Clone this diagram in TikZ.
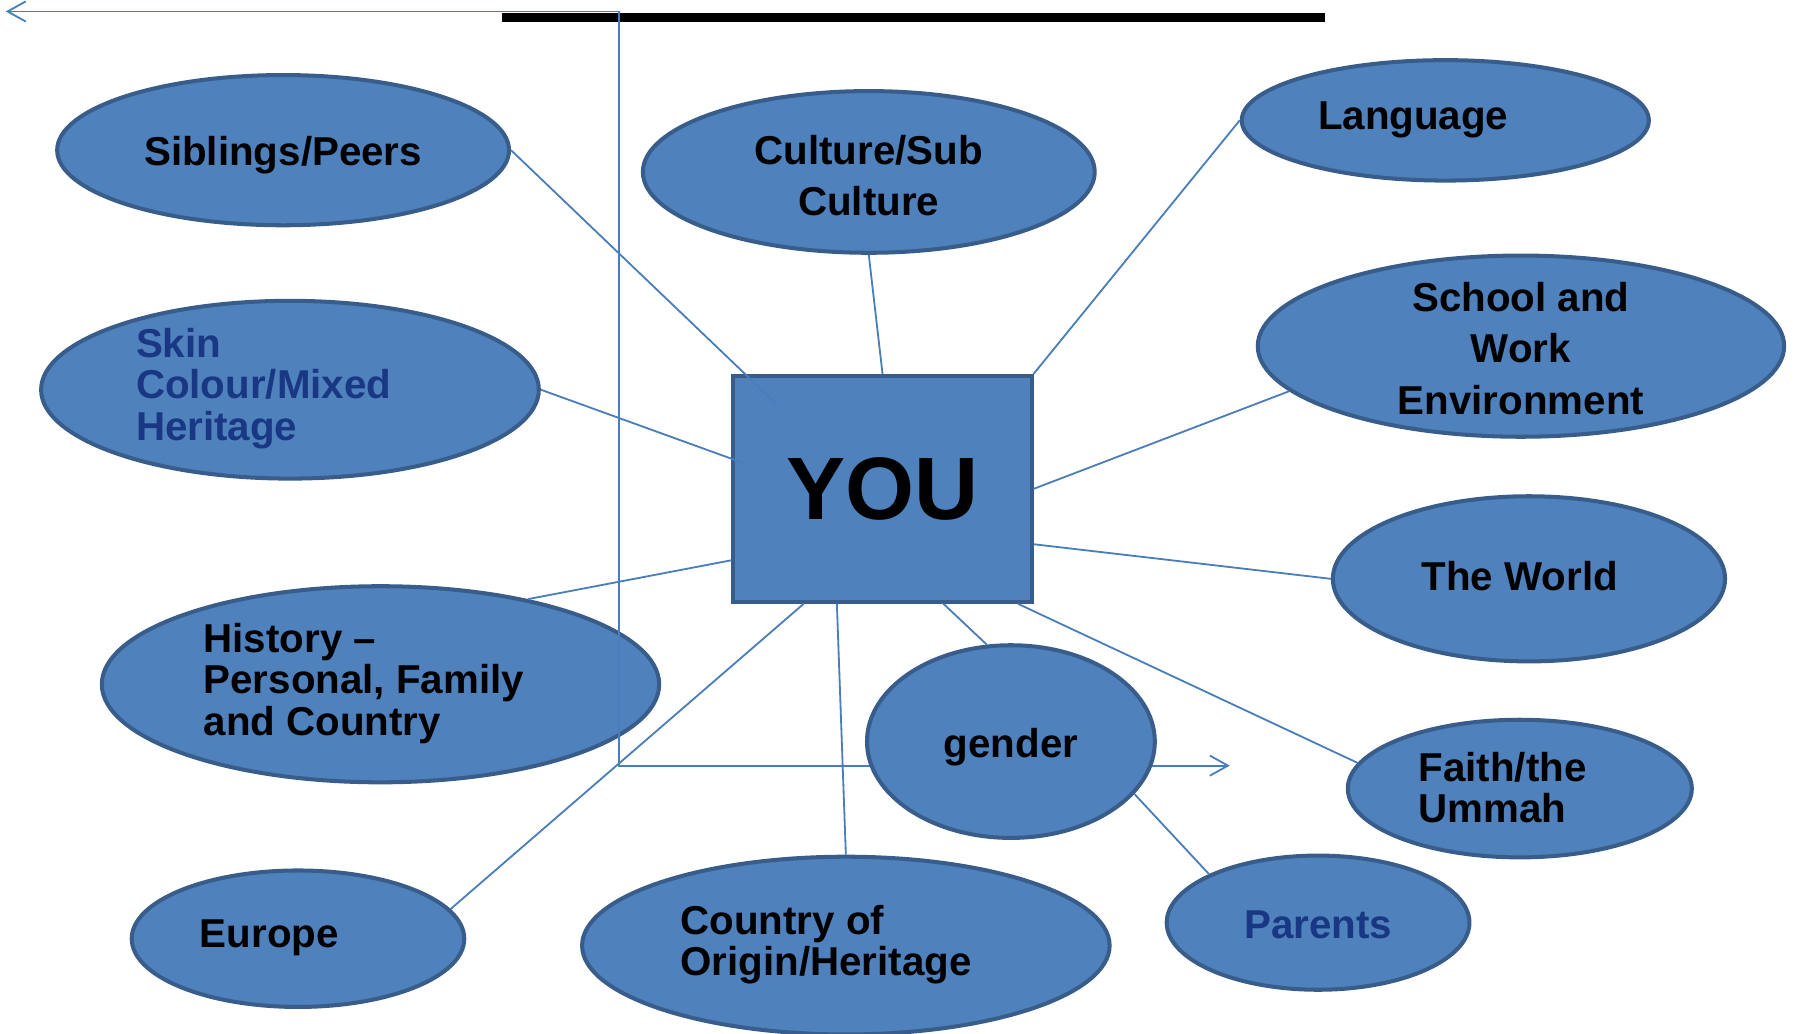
\documentclass[tikz,border=0pt]{standalone}
\usepackage{fontspec}
\setmainfont{Liberation Sans}
\usepackage{tikz}
\usetikzlibrary{arrows.meta,shapes.geometric,calc}
\usepackage{xcolor}

\definecolor{bluefill}{RGB}{79,129,189}
\definecolor{rim}{RGB}{56,93,138}
\definecolor{wirecol}{RGB}{74,126,187}
\definecolor{inkblue}{RGB}{25,55,130}

\begin{document}
\begin{tikzpicture}[x=0.01cm, y=-0.01cm,
	bubble/.style 2 args={ellipse, draw=rim, fill=bluefill, line width=1pt, inner sep=0pt, minimum width=#1, minimum height=#2},
	word/.style={font=\bfseries\fontsize{10}{12.7}\selectfont, align=center, inner sep=0pt},
	wordl/.style={font=\bfseries\fontsize{10}{10.3}\selectfont, align=left, anchor=west, inner sep=0pt},
	wire/.style={draw=wirecol, line width=0.45pt},
	barb/.tip={Straight Barb[length=4.5pt, width=5pt]}]
				\useasboundingbox (0,0) rectangle (1567,902);
				\fill (438,11) rectangle (1156,19);
				% the bubbles
				\node[bubble={3.94cm}{1.31cm}] (sib) at (247,131) {};
				\node[bubble={3.94cm}{1.41cm}] (cul) at (758,150) {};
				\node[bubble={3.55cm}{1.05cm}] (lang) at (1261,105) {};
				\node[bubble={4.34cm}{1.55cm}] (skin) at (253,340) {};
				\node[bubble={4.59cm}{1.58cm}] (school) at (1327,302) {};
				\node[bubble={3.42cm}{1.44cm}] (world) at (1334,505) {};
				\node[bubble={4.86cm}{1.71cm}] (hist) at (332,597) {};
				\node[bubble={3.00cm}{1.20cm}] (faith) at (1326,688) {};
				\node[bubble={2.90cm}{1.19cm}] (eur) at (260,819) {};
				\node[bubble={4.60cm}{1.55cm}] (coo) at (738,825) {};
				\node[bubble={2.64cm}{1.17cm}] (par) at (1150,805) {};
				% elbow arrow
				\coordinate (tipl) at (5,10);
				\coordinate (bend) at (540,668);
				\coordinate (tipr) at (1073,668);
				\draw[wire, barb-barb] (tipl) -| (bend) -- (tipr);
				\node[bubble={2.51cm}{1.68cm}] (gen) at (882,647) {};
				\node[draw=rim, fill=bluefill, line width=1pt, minimum width=2.6cm, minimum height=1.97cm, font=\bfseries\fontsize{22}{22}\selectfont] (you) at (770,426.5) {YOU};
				% texts
				\node[word] (sibt) at (247,135) {Siblings/Peers};
				\node[word] (cult) at (758,153) {Culture/Sub\\Culture};
				\node[word] (langt) at (1233,105) {Language};
				\node[wordl, text=inkblue] (skint) at (118,339) {Skin\\Colour/Mixed\\Heritage};
				\node[word] (schoolt) at (1327,304) {School and\\Work\\Environment};
				\node[word] (worldt) at (1326,503) {The World};
				\node[wordl] (histt) at (177,596) {History –\\Personal, Family\\and Country};
				\node[word] (gent) at (882,652) {gender};
				\node[wordl] (faitht) at (1237,687) {Faith/the\\Ummah};
				\node[word] (eurt) at (235,818) {Europe};
				\node[wordl] (coot) at (593,824) {Country of\\Origin/Heritage};
				\node[word, text=inkblue] (part) at (1150,807) {Parents};
				% spokes
				\draw[wire] (sib.east) -- ($(you.north west)+(40,27)$);
				\draw[wire] (cul.south) -- (you.north);
				\draw[wire] (lang.west) -- (you.north east);
				\draw[wire] (skin.east) -- ($(you.north west)+(11,78)$);
				\draw[wire] (school.191) -- (you.east);
				\draw[wire] (world.west) -- ($(you.south east)+(0,-52)$);
				\draw[wire] (hist.30) -- ($(you.south west)+(0,-38)$);
				\draw[wire] (eur.11) -- ($(you.south west)+(63,0)$);
				\draw[wire] (coo.north) -- ($(you.south west)+(92,0)$);
				\draw[wire] (gen.104) -- ($(you.south west)+(185,0)$);
				\draw[wire] (faith.171) -- ($(you.south west)+(250,0)$);
				\draw[wire] (gen.-23) -- (par.156);
			\end{tikzpicture}
\end{document}
